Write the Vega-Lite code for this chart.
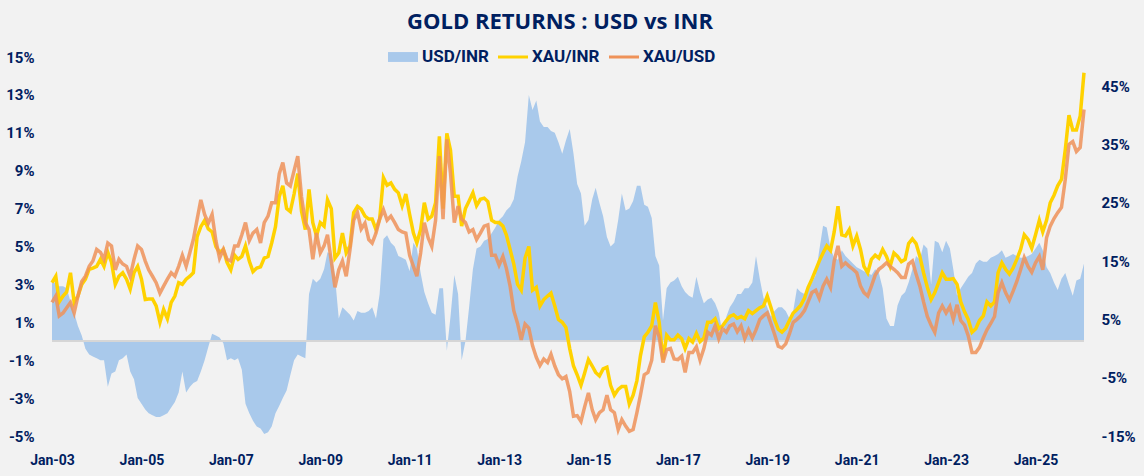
{
  "$schema": "https://vega.github.io/schema/vega-lite/v6.json",
  "width": 1032,
  "height": 379,
  "autosize": "none",
  "padding": {"left": 52, "top": 57, "right": 60, "bottom": 40},
  "background": "#f2f2f2",
  "config": {
    "view": {"stroke": null},
    "font": "Roboto",
    "legend": {
      "title": null,
      "orient": "none",
      "direction": "horizontal",
      "legendX": 336,
      "legendY": -15,
      "labelFont": "Roboto",
      "labelFontSize": 17,
      "labelFontWeight": "bold",
      "labelColor": "#002060",
      "symbolSize": 900,
      "symbolStrokeWidth": 0,
      "labelOffset": 4,
      "columnPadding": 9
    }
  },
  "title": {
    "text": "GOLD RETURNS : USD vs INR",
    "font": "Open Sans",
    "fontSize": 22,
    "fontWeight": "bold",
    "color": "#002060",
    "anchor": "middle",
    "offset": 8,
    "dx": -8
  },
  "data": {
    "values": [
      {"date":"2003/01/01","usdinr":3.3,"xauinr":11.3,"xauusd":7.9},
      {"date":"2003/02/01","usdinr":3.0,"xauinr":12.4,"xauusd":9.0},
      {"date":"2003/03/01","usdinr":2.9,"xauinr":8.0,"xauusd":5.6},
      {"date":"2003/04/01","usdinr":2.9,"xauinr":9.0,"xauusd":6.1},
      {"date":"2003/05/01","usdinr":2.8,"xauinr":9.7,"xauusd":7.0},
      {"date":"2003/06/01","usdinr":2.1,"xauinr":13.0,"xauusd":7.9},
      {"date":"2003/07/01","usdinr":1.5,"xauinr":7.9,"xauusd":6.1},
      {"date":"2003/08/01","usdinr":0.8,"xauinr":9.0,"xauusd":9.0},
      {"date":"2003/09/01","usdinr":0.3,"xauinr":11.0,"xauusd":11.5},
      {"date":"2003/10/01","usdinr":-0.4,"xauinr":11.9,"xauusd":12.4},
      {"date":"2003/11/01","usdinr":-0.7,"xauinr":13.6,"xauusd":14.1},
      {"date":"2003/12/01","usdinr":-0.8,"xauinr":13.8,"xauusd":15.0},
      {"date":"2004/01/01","usdinr":-0.9,"xauinr":14.1,"xauusd":17.0},
      {"date":"2004/02/01","usdinr":-1.0,"xauinr":15.3,"xauusd":16.5},
      {"date":"2004/03/01","usdinr":-1.0,"xauinr":14.1,"xauusd":15.3},
      {"date":"2004/04/01","usdinr":-2.4,"xauinr":16.5,"xauusd":18.1},
      {"date":"2004/05/01","usdinr":-1.7,"xauinr":14.8,"xauusd":17.6},
      {"date":"2004/06/01","usdinr":-1.6,"xauinr":11.0,"xauusd":13.5},
      {"date":"2004/07/01","usdinr":-1.0,"xauinr":12.4,"xauusd":15.3},
      {"date":"2004/08/01","usdinr":-0.9,"xauinr":13.0,"xauusd":14.5},
      {"date":"2004/09/01","usdinr":-0.7,"xauinr":11.9,"xauusd":14.1},
      {"date":"2004/10/01","usdinr":-1.6,"xauinr":10.2,"xauusd":12.4},
      {"date":"2004/11/01","usdinr":-2.0,"xauinr":13.0,"xauusd":15.3},
      {"date":"2004/12/01","usdinr":-3.0,"xauinr":14.1,"xauusd":17.6},
      {"date":"2005/01/01","usdinr":-3.3,"xauinr":11.9,"xauusd":17.0},
      {"date":"2005/02/01","usdinr":-3.6,"xauinr":8.4,"xauusd":15.0},
      {"date":"2005/03/01","usdinr":-3.8,"xauinr":8.5,"xauusd":13.5},
      {"date":"2005/04/01","usdinr":-3.9,"xauinr":8.5,"xauusd":12.4},
      {"date":"2005/05/01","usdinr":-4.0,"xauinr":7.3,"xauusd":11.3},
      {"date":"2005/06/01","usdinr":-4.0,"xauinr":4.5,"xauusd":9.5},
      {"date":"2005/07/01","usdinr":-3.9,"xauinr":6.7,"xauusd":10.7},
      {"date":"2005/08/01","usdinr":-3.8,"xauinr":5.1,"xauusd":11.9},
      {"date":"2005/09/01","usdinr":-3.5,"xauinr":7.9,"xauusd":13.0},
      {"date":"2005/10/01","usdinr":-3.2,"xauinr":9.0,"xauusd":12.4},
      {"date":"2005/11/01","usdinr":-2.7,"xauinr":11.3,"xauusd":14.1},
      {"date":"2005/12/01","usdinr":-1.6,"xauinr":11.0,"xauusd":16.0},
      {"date":"2006/01/01","usdinr":-2.7,"xauinr":11.9,"xauusd":14.1},
      {"date":"2006/02/01","usdinr":-2.4,"xauinr":12.4,"xauusd":16.5},
      {"date":"2006/03/01","usdinr":-2.2,"xauinr":13.0,"xauusd":18.7},
      {"date":"2006/04/01","usdinr":-2.1,"xauinr":19.2,"xauusd":22.2},
      {"date":"2006/05/01","usdinr":-1.6,"xauinr":20.9,"xauusd":25.5},
      {"date":"2006/06/01","usdinr":-1.0,"xauinr":22.0,"xauusd":23.0},
      {"date":"2006/07/01","usdinr":-0.3,"xauinr":20.5,"xauusd":21.5},
      {"date":"2006/08/01","usdinr":0.4,"xauinr":20.0,"xauusd":23.0},
      {"date":"2006/09/01","usdinr":0.3,"xauinr":17.5,"xauusd":18.5},
      {"date":"2006/10/01","usdinr":0.2,"xauinr":16.5,"xauusd":15.5},
      {"date":"2006/11/01","usdinr":-0.1,"xauinr":17.0,"xauusd":17.0},
      {"date":"2006/12/01","usdinr":-1.0,"xauinr":14.8,"xauusd":15.3},
      {"date":"2007/01/01","usdinr":-0.9,"xauinr":13.5,"xauusd":15.0},
      {"date":"2007/02/01","usdinr":-1.0,"xauinr":16.0,"xauusd":17.6},
      {"date":"2007/03/01","usdinr":-0.9,"xauinr":15.3,"xauusd":17.6},
      {"date":"2007/04/01","usdinr":-1.5,"xauinr":15.8,"xauusd":19.5},
      {"date":"2007/05/01","usdinr":-3.3,"xauinr":17.6,"xauusd":21.6},
      {"date":"2007/06/01","usdinr":-3.8,"xauinr":15.0,"xauusd":18.5},
      {"date":"2007/07/01","usdinr":-4.2,"xauinr":13.2,"xauusd":19.8},
      {"date":"2007/08/01","usdinr":-4.5,"xauinr":13.8,"xauusd":20.4},
      {"date":"2007/09/01","usdinr":-4.6,"xauinr":14.0,"xauusd":18.1},
      {"date":"2007/10/01","usdinr":-4.9,"xauinr":15.5,"xauusd":21.6},
      {"date":"2007/11/01","usdinr":-4.8,"xauinr":15.8,"xauusd":22.7},
      {"date":"2007/12/01","usdinr":-4.5,"xauinr":18.1,"xauusd":25.0},
      {"date":"2008/01/01","usdinr":-3.8,"xauinr":20.9,"xauusd":25.0},
      {"date":"2008/02/01","usdinr":-3.4,"xauinr":26.1,"xauusd":30.0},
      {"date":"2008/03/01","usdinr":-3.0,"xauinr":27.9,"xauusd":31.9},
      {"date":"2008/04/01","usdinr":-2.6,"xauinr":24.0,"xauusd":28.4},
      {"date":"2008/05/01","usdinr":-1.8,"xauinr":23.5,"xauusd":27.9},
      {"date":"2008/06/01","usdinr":-1.0,"xauinr":26.5,"xauusd":30.5},
      {"date":"2008/07/01","usdinr":-0.7,"xauinr":30.0,"xauusd":33.0},
      {"date":"2008/08/01","usdinr":-0.8,"xauinr":23.5,"xauusd":26.0},
      {"date":"2008/09/01","usdinr":-0.9,"xauinr":20.4,"xauusd":21.6},
      {"date":"2008/10/01","usdinr":2.5,"xauinr":27.3,"xauusd":20.4},
      {"date":"2008/11/01","usdinr":3.3,"xauinr":21.6,"xauusd":15.3},
      {"date":"2008/12/01","usdinr":3.1,"xauinr":19.3,"xauusd":19.8},
      {"date":"2009/01/01","usdinr":3.3,"xauinr":21.6,"xauusd":16.4},
      {"date":"2009/02/01","usdinr":3.8,"xauinr":21.0,"xauusd":17.6},
      {"date":"2009/03/01","usdinr":4.7,"xauinr":25.5,"xauusd":19.5},
      {"date":"2009/04/01","usdinr":4.6,"xauinr":24.0,"xauusd":15.0},
      {"date":"2009/05/01","usdinr":3.4,"xauinr":15.5,"xauusd":10.5},
      {"date":"2009/06/01","usdinr":1.2,"xauinr":16.4,"xauusd":13.5},
      {"date":"2009/07/01","usdinr":1.8,"xauinr":19.8,"xauusd":15.0},
      {"date":"2009/08/01","usdinr":1.6,"xauinr":16.4,"xauusd":12.4},
      {"date":"2009/09/01","usdinr":1.4,"xauinr":17.6,"xauusd":17.0},
      {"date":"2009/10/01","usdinr":1.1,"xauinr":23.3,"xauusd":22.0},
      {"date":"2009/11/01","usdinr":1.6,"xauinr":24.4,"xauusd":23.3},
      {"date":"2009/12/01","usdinr":1.5,"xauinr":23.9,"xauusd":20.5},
      {"date":"2010/01/01","usdinr":1.5,"xauinr":22.7,"xauusd":21.5},
      {"date":"2010/02/01","usdinr":1.6,"xauinr":22.2,"xauusd":18.7},
      {"date":"2010/03/01","usdinr":1.8,"xauinr":22.2,"xauusd":18.1},
      {"date":"2010/04/01","usdinr":1.2,"xauinr":20.4,"xauusd":19.8},
      {"date":"2010/05/01","usdinr":2.5,"xauinr":22.2,"xauusd":22.2},
      {"date":"2010/06/01","usdinr":5.4,"xauinr":29.3,"xauusd":23.8},
      {"date":"2010/07/01","usdinr":5.6,"xauinr":28.0,"xauusd":22.0},
      {"date":"2010/08/01","usdinr":5.2,"xauinr":28.4,"xauusd":22.7},
      {"date":"2010/09/01","usdinr":5.0,"xauinr":27.3,"xauusd":21.6},
      {"date":"2010/10/01","usdinr":4.5,"xauinr":26.7,"xauusd":20.4},
      {"date":"2010/11/01","usdinr":4.4,"xauinr":24.5,"xauusd":20.0},
      {"date":"2010/12/01","usdinr":4.3,"xauinr":26.5,"xauusd":19.8},
      {"date":"2011/01/01","usdinr":3.7,"xauinr":23.0,"xauusd":16.0},
      {"date":"2011/02/01","usdinr":5.2,"xauinr":19.8,"xauusd":14.1},
      {"date":"2011/03/01","usdinr":4.9,"xauinr":18.1,"xauusd":12.4},
      {"date":"2011/04/01","usdinr":3.6,"xauinr":20.4,"xauusd":16.4},
      {"date":"2011/05/01","usdinr":2.6,"xauinr":25.0,"xauusd":21.6},
      {"date":"2011/06/01","usdinr":2.0,"xauinr":22.2,"xauusd":19.0},
      {"date":"2011/07/01","usdinr":1.5,"xauinr":22.7,"xauusd":17.5},
      {"date":"2011/08/01","usdinr":1.4,"xauinr":25.0,"xauusd":22.0},
      {"date":"2011/09/01","usdinr":2.8,"xauinr":36.4,"xauusd":33.0},
      {"date":"2011/10/01","usdinr":2.8,"xauinr":24.0,"xauusd":22.2},
      {"date":"2011/11/01","usdinr":-0.5,"xauinr":36.9,"xauusd":35.9},
      {"date":"2011/12/01","usdinr":1.3,"xauinr":34.0,"xauusd":30.0},
      {"date":"2012/01/01","usdinr":3.5,"xauinr":26.1,"xauusd":21.6},
      {"date":"2012/02/01","usdinr":2.5,"xauinr":26.1,"xauusd":24.4},
      {"date":"2012/03/01","usdinr":-1.0,"xauinr":21.0,"xauusd":22.2},
      {"date":"2012/04/01","usdinr":0.0,"xauinr":24.0,"xauusd":21.6},
      {"date":"2012/05/01","usdinr":1.8,"xauinr":25.3,"xauusd":20.0},
      {"date":"2012/06/01","usdinr":3.8,"xauinr":26.7,"xauusd":20.4},
      {"date":"2012/07/01","usdinr":4.9,"xauinr":24.5,"xauusd":18.7},
      {"date":"2012/08/01","usdinr":5.0,"xauinr":25.6,"xauusd":19.8},
      {"date":"2012/09/01","usdinr":5.3,"xauinr":25.8,"xauusd":21.0},
      {"date":"2012/10/01","usdinr":5.4,"xauinr":25.2,"xauusd":21.2},
      {"date":"2012/11/01","usdinr":5.7,"xauinr":22.0,"xauusd":16.0},
      {"date":"2012/12/01","usdinr":6.0,"xauinr":21.6,"xauusd":16.0},
      {"date":"2013/01/01","usdinr":6.4,"xauinr":21.6,"xauusd":14.3},
      {"date":"2013/02/01","usdinr":6.6,"xauinr":21.0,"xauusd":15.8},
      {"date":"2013/03/01","usdinr":6.9,"xauinr":19.5,"xauusd":13.8},
      {"date":"2013/04/01","usdinr":7.1,"xauinr":17.0,"xauusd":10.7},
      {"date":"2013/05/01","usdinr":7.5,"xauinr":14.5,"xauusd":6.5},
      {"date":"2013/06/01","usdinr":8.7,"xauinr":11.0,"xauusd":4.3},
      {"date":"2013/07/01","usdinr":9.5,"xauinr":10.0,"xauusd":1.5},
      {"date":"2013/08/01","usdinr":10.5,"xauinr":15.5,"xauusd":4.2},
      {"date":"2013/09/01","usdinr":13.0,"xauinr":17.5,"xauusd":3.5},
      {"date":"2013/10/01","usdinr":12.2,"xauinr":10.0,"xauusd":0.5},
      {"date":"2013/11/01","usdinr":12.7,"xauinr":10.5,"xauusd":-1.5},
      {"date":"2013/12/01","usdinr":11.6,"xauinr":7.3,"xauusd":-2.9},
      {"date":"2014/01/01","usdinr":11.3,"xauinr":8.4,"xauusd":-1.8},
      {"date":"2014/02/01","usdinr":11.3,"xauinr":9.0,"xauusd":-2.4},
      {"date":"2014/03/01","usdinr":11.1,"xauinr":9.5,"xauusd":-1.0},
      {"date":"2014/04/01","usdinr":11.0,"xauinr":7.3,"xauusd":-3.0},
      {"date":"2014/05/01","usdinr":10.5,"xauinr":5.0,"xauusd":-4.5},
      {"date":"2014/06/01","usdinr":9.9,"xauinr":4.5,"xauusd":-5.2},
      {"date":"2014/07/01","usdinr":10.6,"xauinr":3.6,"xauusd":-4.8},
      {"date":"2014/08/01","usdinr":11.2,"xauinr":0.0,"xauusd":-7.4},
      {"date":"2014/09/01","usdinr":9.9,"xauinr":-3.0,"xauusd":-11.6},
      {"date":"2014/10/01","usdinr":8.3,"xauinr":-4.5,"xauusd":-11.5},
      {"date":"2014/11/01","usdinr":7.8,"xauinr":-6.3,"xauusd":-12.5},
      {"date":"2014/12/01","usdinr":6.1,"xauinr":-4.2,"xauusd":-10.0},
      {"date":"2015/01/01","usdinr":6.4,"xauinr":-1.9,"xauusd":-7.6},
      {"date":"2015/02/01","usdinr":7.5,"xauinr":-3.0,"xauusd":-10.5},
      {"date":"2015/03/01","usdinr":8.1,"xauinr":-4.1,"xauusd":-12.2},
      {"date":"2015/04/01","usdinr":7.3,"xauinr":-4.7,"xauusd":-11.0},
      {"date":"2015/05/01","usdinr":6.6,"xauinr":-3.5,"xauusd":-10.5},
      {"date":"2015/06/01","usdinr":5.5,"xauinr":-3.2,"xauusd":-8.0},
      {"date":"2015/07/01","usdinr":5.0,"xauinr":-6.3,"xauusd":-10.5},
      {"date":"2015/08/01","usdinr":5.2,"xauinr":-8.0,"xauusd":-11.0},
      {"date":"2015/09/01","usdinr":6.4,"xauinr":-7.0,"xauusd":-13.9},
      {"date":"2015/10/01","usdinr":7.8,"xauinr":-6.5,"xauusd":-12.2},
      {"date":"2015/11/01","usdinr":6.9,"xauinr":-6.5,"xauusd":-13.3},
      {"date":"2015/12/01","usdinr":7.0,"xauinr":-9.5,"xauusd":-14.2},
      {"date":"2016/01/01","usdinr":7.4,"xauinr":-8.0,"xauusd":-13.9},
      {"date":"2016/02/01","usdinr":8.2,"xauinr":-5.5,"xauusd":-11.0},
      {"date":"2016/03/01","usdinr":8.2,"xauinr":-1.2,"xauusd":-8.0},
      {"date":"2016/04/01","usdinr":7.2,"xauinr":2.0,"xauusd":-4.5},
      {"date":"2016/05/01","usdinr":7.1,"xauinr":2.8,"xauusd":-4.1},
      {"date":"2016/06/01","usdinr":6.5,"xauinr":3.9,"xauusd":-2.0},
      {"date":"2016/07/01","usdinr":4.5,"xauinr":7.9,"xauusd":3.9},
      {"date":"2016/08/01","usdinr":4.0,"xauinr":4.5,"xauusd":2.0},
      {"date":"2016/09/01","usdinr":1.1,"xauinr":-1.9,"xauusd":-2.4},
      {"date":"2016/10/01","usdinr":2.8,"xauinr":2.3,"xauusd":-0.2},
      {"date":"2016/11/01","usdinr":3.1,"xauinr":1.5,"xauusd":0.0},
      {"date":"2016/12/01","usdinr":3.2,"xauinr":1.5,"xauusd":-1.8},
      {"date":"2017/01/01","usdinr":3.4,"xauinr":2.3,"xauusd":-1.9},
      {"date":"2017/02/01","usdinr":2.9,"xauinr":1.7,"xauusd":-1.3},
      {"date":"2017/03/01","usdinr":2.6,"xauinr":0.0,"xauusd":-4.1},
      {"date":"2017/04/01","usdinr":2.4,"xauinr":1.7,"xauusd":-0.7},
      {"date":"2017/05/01","usdinr":2.3,"xauinr":1.1,"xauusd":-0.7},
      {"date":"2017/06/01","usdinr":3.4,"xauinr":2.6,"xauusd":0.3},
      {"date":"2017/07/01","usdinr":2.6,"xauinr":1.2,"xauusd":-2.0},
      {"date":"2017/08/01","usdinr":2.0,"xauinr":1.8,"xauusd":0.0},
      {"date":"2017/09/01","usdinr":2.2,"xauinr":4.5,"xauusd":2.8},
      {"date":"2017/10/01","usdinr":2.3,"xauinr":4.5,"xauusd":2.3},
      {"date":"2017/11/01","usdinr":2.0,"xauinr":5.1,"xauusd":3.9},
      {"date":"2017/12/01","usdinr":1.5,"xauinr":3.4,"xauusd":1.7},
      {"date":"2018/01/01","usdinr":0.4,"xauinr":3.9,"xauusd":3.4},
      {"date":"2018/02/01","usdinr":1.3,"xauinr":4.8,"xauusd":2.8},
      {"date":"2018/03/01","usdinr":1.8,"xauinr":5.5,"xauusd":3.9},
      {"date":"2018/04/01","usdinr":2.1,"xauinr":5.8,"xauusd":4.2},
      {"date":"2018/05/01","usdinr":2.5,"xauinr":5.2,"xauusd":2.9},
      {"date":"2018/06/01","usdinr":2.5,"xauinr":5.5,"xauusd":3.9},
      {"date":"2018/07/01","usdinr":2.8,"xauinr":5.1,"xauusd":1.7},
      {"date":"2018/08/01","usdinr":2.8,"xauinr":6.5,"xauusd":3.2},
      {"date":"2018/09/01","usdinr":3.1,"xauinr":6.0,"xauusd":1.8},
      {"date":"2018/10/01","usdinr":4.5,"xauinr":6.5,"xauusd":3.2},
      {"date":"2018/11/01","usdinr":3.3,"xauinr":7.0,"xauusd":5.0},
      {"date":"2018/12/01","usdinr":2.3,"xauinr":7.3,"xauusd":5.6},
      {"date":"2019/01/01","usdinr":1.8,"xauinr":9.0,"xauusd":6.1},
      {"date":"2019/02/01","usdinr":1.3,"xauinr":7.0,"xauusd":4.2},
      {"date":"2019/03/01","usdinr":1.6,"xauinr":5.0,"xauusd":2.5},
      {"date":"2019/04/01","usdinr":1.8,"xauinr":3.3,"xauusd":0.4},
      {"date":"2019/05/01","usdinr":1.8,"xauinr":2.8,"xauusd":0.1},
      {"date":"2019/06/01","usdinr":1.6,"xauinr":3.5,"xauusd":0.8},
      {"date":"2019/07/01","usdinr":1.2,"xauinr":4.8,"xauusd":2.5},
      {"date":"2019/08/01","usdinr":1.6,"xauinr":6.1,"xauusd":4.5},
      {"date":"2019/09/01","usdinr":2.8,"xauinr":6.7,"xauusd":5.0},
      {"date":"2019/10/01","usdinr":2.6,"xauinr":7.4,"xauusd":5.6},
      {"date":"2019/11/01","usdinr":2.5,"xauinr":8.6,"xauusd":6.5},
      {"date":"2019/12/01","usdinr":2.8,"xauinr":10.5,"xauusd":8.0},
      {"date":"2020/01/01","usdinr":3.1,"xauinr":11.9,"xauusd":9.6},
      {"date":"2020/02/01","usdinr":3.5,"xauinr":13.5,"xauusd":10.0},
      {"date":"2020/03/01","usdinr":4.8,"xauinr":15.0,"xauusd":8.6},
      {"date":"2020/04/01","usdinr":6.1,"xauinr":16.4,"xauusd":10.7},
      {"date":"2020/05/01","usdinr":6.0,"xauinr":17.6,"xauusd":11.9},
      {"date":"2020/06/01","usdinr":4.9,"xauinr":16.8,"xauusd":10.5},
      {"date":"2020/07/01","usdinr":4.4,"xauinr":20.0,"xauusd":15.0},
      {"date":"2020/08/01","usdinr":4.3,"xauinr":24.4,"xauusd":17.6},
      {"date":"2020/09/01","usdinr":4.8,"xauinr":19.5,"xauusd":14.1},
      {"date":"2020/10/01","usdinr":4.5,"xauinr":19.3,"xauusd":14.7},
      {"date":"2020/11/01","usdinr":4.3,"xauinr":20.4,"xauusd":14.1},
      {"date":"2020/12/01","usdinr":4.1,"xauinr":17.6,"xauusd":13.6},
      {"date":"2021/01/01","usdinr":3.9,"xauinr":19.3,"xauusd":13.0},
      {"date":"2021/02/01","usdinr":3.8,"xauinr":17.0,"xauusd":10.7},
      {"date":"2021/03/01","usdinr":3.7,"xauinr":14.1,"xauusd":9.6},
      {"date":"2021/04/01","usdinr":3.6,"xauinr":13.0,"xauusd":9.0},
      {"date":"2021/05/01","usdinr":3.5,"xauinr":15.3,"xauusd":10.7},
      {"date":"2021/06/01","usdinr":3.8,"xauinr":16.0,"xauusd":12.6},
      {"date":"2021/07/01","usdinr":3.6,"xauinr":15.5,"xauusd":13.6},
      {"date":"2021/08/01","usdinr":2.8,"xauinr":17.0,"xauusd":14.1},
      {"date":"2021/09/01","usdinr":1.2,"xauinr":15.8,"xauusd":14.7},
      {"date":"2021/10/01","usdinr":0.8,"xauinr":14.1,"xauusd":14.1},
      {"date":"2021/11/01","usdinr":0.8,"xauinr":16.4,"xauusd":13.6},
      {"date":"2021/12/01","usdinr":1.9,"xauinr":15.8,"xauusd":13.0},
      {"date":"2022/01/01","usdinr":2.4,"xauinr":14.9,"xauusd":12.2},
      {"date":"2022/02/01","usdinr":2.6,"xauinr":15.3,"xauusd":12.2},
      {"date":"2022/03/01","usdinr":3.1,"xauinr":18.0,"xauusd":14.5},
      {"date":"2022/04/01","usdinr":3.8,"xauinr":18.8,"xauusd":15.0},
      {"date":"2022/05/01","usdinr":4.5,"xauinr":18.0,"xauusd":12.8},
      {"date":"2022/06/01","usdinr":4.3,"xauinr":15.8,"xauusd":10.7},
      {"date":"2022/07/01","usdinr":5.1,"xauinr":13.0,"xauusd":8.0},
      {"date":"2022/08/01","usdinr":4.9,"xauinr":10.5,"xauusd":5.5},
      {"date":"2022/09/01","usdinr":3.0,"xauinr":8.4,"xauusd":4.0},
      {"date":"2022/10/01","usdinr":5.3,"xauinr":9.6,"xauusd":2.8},
      {"date":"2022/11/01","usdinr":5.2,"xauinr":11.3,"xauusd":6.1},
      {"date":"2022/12/01","usdinr":4.7,"xauinr":13.0,"xauusd":7.3},
      {"date":"2023/01/01","usdinr":5.3,"xauinr":11.9,"xauusd":6.1},
      {"date":"2023/02/01","usdinr":4.9,"xauinr":11.9,"xauusd":7.2},
      {"date":"2023/03/01","usdinr":3.8,"xauinr":12.0,"xauusd":5.0},
      {"date":"2023/04/01","usdinr":2.4,"xauinr":11.0,"xauusd":7.5},
      {"date":"2023/05/01","usdinr":2.8,"xauinr":8.0,"xauusd":4.8},
      {"date":"2023/06/01","usdinr":3.1,"xauinr":6.3,"xauusd":4.0},
      {"date":"2023/07/01","usdinr":3.4,"xauinr":5.0,"xauusd":2.2},
      {"date":"2023/08/01","usdinr":3.6,"xauinr":2.8,"xauusd":-0.7},
      {"date":"2023/09/01","usdinr":4.1,"xauinr":3.4,"xauusd":-0.7},
      {"date":"2023/10/01","usdinr":4.3,"xauinr":4.8,"xauusd":0.2},
      {"date":"2023/11/01","usdinr":4.2,"xauinr":5.6,"xauusd":1.8},
      {"date":"2023/12/01","usdinr":4.2,"xauinr":8.0,"xauusd":3.2},
      {"date":"2024/01/01","usdinr":4.4,"xauinr":7.3,"xauusd":4.3},
      {"date":"2024/02/01","usdinr":4.5,"xauinr":8.0,"xauusd":5.5},
      {"date":"2024/03/01","usdinr":4.6,"xauinr":13.0,"xauusd":9.6},
      {"date":"2024/04/01","usdinr":4.8,"xauinr":14.7,"xauusd":11.3},
      {"date":"2024/05/01","usdinr":4.4,"xauinr":13.6,"xauusd":9.6},
      {"date":"2024/06/01","usdinr":4.5,"xauinr":12.8,"xauusd":8.3},
      {"date":"2024/07/01","usdinr":4.6,"xauinr":13.8,"xauusd":9.8},
      {"date":"2024/08/01","usdinr":4.5,"xauinr":15.3,"xauusd":11.5},
      {"date":"2024/09/01","usdinr":4.4,"xauinr":17.0,"xauusd":13.5},
      {"date":"2024/10/01","usdinr":4.4,"xauinr":19.5,"xauusd":15.6},
      {"date":"2024/11/01","usdinr":4.5,"xauinr":18.7,"xauusd":14.1},
      {"date":"2024/12/01","usdinr":4.6,"xauinr":17.2,"xauusd":13.1},
      {"date":"2025/01/01","usdinr":4.9,"xauinr":19.5,"xauusd":14.7},
      {"date":"2025/02/01","usdinr":5.2,"xauinr":22.0,"xauusd":15.8},
      {"date":"2025/03/01","usdinr":4.8,"xauinr":20.0,"xauusd":13.5},
      {"date":"2025/04/01","usdinr":3.9,"xauinr":22.0,"xauusd":19.0},
      {"date":"2025/05/01","usdinr":3.6,"xauinr":25.0,"xauusd":21.0},
      {"date":"2025/06/01","usdinr":3.1,"xauinr":26.3,"xauusd":22.3},
      {"date":"2025/07/01","usdinr":2.7,"xauinr":27.9,"xauusd":23.3},
      {"date":"2025/08/01","usdinr":3.3,"xauinr":29.0,"xauusd":24.2},
      {"date":"2025/09/01","usdinr":3.6,"xauinr":34.1,"xauusd":29.0},
      {"date":"2025/10/01","usdinr":3.0,"xauinr":40.0,"xauusd":35.0},
      {"date":"2025/11/01","usdinr":2.4,"xauinr":37.5,"xauusd":35.5},
      {"date":"2025/12/01","usdinr":3.2,"xauinr":37.5,"xauusd":33.8},
      {"date":"2026/01/01","usdinr":3.3,"xauinr":39.9,"xauusd":34.5},
      {"date":"2026/02/01","usdinr":4.1,"xauinr":47.3,"xauusd":41.0}
    ]
  },
  "layer": [
    {
      "mark": {"type": "area", "color": "#a9c9eb", "opacity": 1},
      "encoding": {
        "x": {
          "field": "date",
          "type": "temporal",
          "scale": {"domain": [{"year": 2003, "month": 1, "date": 1}, {"year": 2026, "month": 2, "date": 1}]},
          "axis": {
            "orient": "bottom",
            "title": null,
            "format": "%b-%y",
            "values": [
              {"year": 2003, "month": 1, "date": 1},
              {"year": 2005, "month": 1, "date": 1},
              {"year": 2007, "month": 1, "date": 1},
              {"year": 2009, "month": 1, "date": 1},
              {"year": 2011, "month": 1, "date": 1},
              {"year": 2013, "month": 1, "date": 1},
              {"year": 2015, "month": 1, "date": 1},
              {"year": 2017, "month": 1, "date": 1},
              {"year": 2019, "month": 1, "date": 1},
              {"year": 2021, "month": 1, "date": 1},
              {"year": 2023, "month": 1, "date": 1},
              {"year": 2025, "month": 1, "date": 1}
            ],
            "domain": false,
            "ticks": false,
            "grid": false,
            "labelFlush": false,
            "labelOverlap": false,
            "labelAlign": "center",
            "labelPadding": 17,
            "labelFont": "Roboto",
            "labelFontSize": 14,
            "labelFontWeight": "bold",
            "labelColor": "#002060"
          }
        },
        "y": {
          "field": "usdinr",
          "type": "quantitative",
          "scale": {"domain": [-5, 15], "nice": false, "zero": false},
          "axis": {
            "orient": "left",
            "title": null,
            "values": [-5, -3, -1, 1, 3, 5, 7, 9, 11, 13, 15],
            "labelExpr": "datum.value + '%'",
            "domain": false,
            "ticks": false,
            "grid": false,
            "labelFlush": false,
            "labelPadding": 18,
            "labelFont": "Roboto",
            "labelFontSize": 15,
            "labelFontWeight": "bold",
            "labelColor": "#002060"
          }
        },
        "color": {
          "datum": "usdinr",
          "type": "nominal",
          "scale": {"domain": ["usdinr", "xauinr", "xauusd"], "range": ["#a9c9eb", "#ffd200", "#ef9259"]},
          "legend": {
            "labelExpr": "datum.value == 'usdinr' ? 'USD/INR' : datum.value == 'xauinr' ? 'XAU/INR' : 'XAU/USD'",
            "symbolType": "M-1,-0.1H1V0.1H-1Z",
            "encode": {
              "symbols": {
                "update": {
                  "shape": {"signal": "datum.value == 'usdinr' ? 'M-1,-0.33H1V0.33H-1Z' : 'M-1,-0.1H1V0.1H-1Z'"},
                  "fill": {"signal": "datum.value == 'usdinr' ? '#a9c9eb' : datum.value == 'xauinr' ? '#ffd200' : '#ef9259'"},
                  "strokeWidth": {"value": 0},
                  "opacity": {"value": 1}
                }
              }
            }
          }
        }
      }
    },
    {
      "mark": {"type": "rule", "color": "#d6d6d6", "strokeWidth": 1.5},
      "encoding": {
        "y": {"datum": 0, "type": "quantitative", "scale": {"domain": [-5, 15], "nice": false, "zero": false}, "axis": null}
      }
    },
    {
      "layer": [
        {
          "mark": {"type": "line", "strokeWidth": 3.5},
          "encoding": {
            "x": {"field": "date", "type": "temporal"},
            "y": {
              "field": "xauinr",
              "type": "quantitative",
              "scale": {"domain": [-15, 50], "nice": false, "zero": false},
              "axis": {
                "orient": "right",
                "title": null,
                "values": [-15, -5, 5, 15, 25, 35, 45],
                "labelExpr": "datum.value + '%'",
                "domain": false,
                "ticks": false,
                "grid": false,
                "labelFlush": false,
                "labelPadding": 17,
                "labelFont": "Roboto",
                "labelFontSize": 15,
                "labelFontWeight": "bold",
                "labelColor": "#002060"
              }
            },
            "color": {
              "datum": "xauinr",
              "type": "nominal",
              "legend": {
                "labelExpr": "datum.value == 'usdinr' ? 'USD/INR' : datum.value == 'xauinr' ? 'XAU/INR' : 'XAU/USD'",
                "symbolType": "M-1,-0.1H1V0.1H-1Z",
                "encode": {
                  "symbols": {
                    "update": {
                      "shape": {"signal": "datum.value == 'usdinr' ? 'M-1,-0.33H1V0.33H-1Z' : 'M-1,-0.1H1V0.1H-1Z'"},
                      "fill": {"signal": "datum.value == 'usdinr' ? '#a9c9eb' : datum.value == 'xauinr' ? '#ffd200' : '#ef9259'"},
                      "strokeWidth": {"value": 0},
                      "opacity": {"value": 1}
                    }
                  }
                }
              }
            }
          }
        },
        {
          "mark": {"type": "line", "strokeWidth": 3.5, "opacity": 0.85},
          "encoding": {
            "x": {"field": "date", "type": "temporal"},
            "y": {
              "field": "xauusd",
              "type": "quantitative",
              "axis": {
                "orient": "right",
                "title": null,
                "values": [-15, -5, 5, 15, 25, 35, 45],
                "labelExpr": "datum.value + '%'",
                "domain": false,
                "ticks": false,
                "grid": false,
                "labelFlush": false,
                "labelPadding": 17,
                "labelFont": "Roboto",
                "labelFontSize": 15,
                "labelFontWeight": "bold",
                "labelColor": "#002060"
              }
            },
            "color": {
              "datum": "xauusd",
              "type": "nominal",
              "legend": {
                "labelExpr": "datum.value == 'usdinr' ? 'USD/INR' : datum.value == 'xauinr' ? 'XAU/INR' : 'XAU/USD'",
                "symbolType": "M-1,-0.1H1V0.1H-1Z",
                "encode": {
                  "symbols": {
                    "update": {
                      "shape": {"signal": "datum.value == 'usdinr' ? 'M-1,-0.33H1V0.33H-1Z' : 'M-1,-0.1H1V0.1H-1Z'"},
                      "fill": {"signal": "datum.value == 'usdinr' ? '#a9c9eb' : datum.value == 'xauinr' ? '#ffd200' : '#ef9259'"},
                      "strokeWidth": {"value": 0},
                      "opacity": {"value": 1}
                    }
                  }
                }
              }
            }
          }
        }
      ]
    }
  ],
  "resolve": {"scale": {"y": "independent"}}
}
